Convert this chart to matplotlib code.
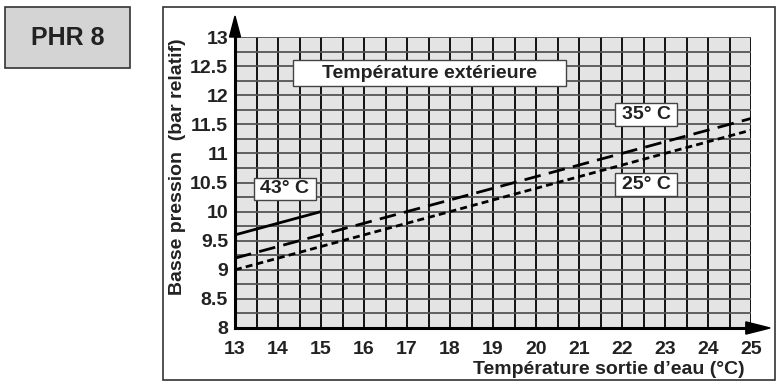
import numpy as np
import matplotlib.pyplot as plt
from matplotlib.patches import Rectangle, Polygon

plt.rcParams['font.family'] = ['Liberation Sans', 'DejaVu Sans']
plt.rcParams['font.weight'] = 'bold'

# water outlet temperature (°C) and low pressure (bar relatif)
t_43 = [13, 15]
p_43 = [9.6, 10.0]
t_35 = [13, 25]
p_35 = [9.2, 11.6]
t_25 = [13, 25]
p_25 = [9.0, 11.4]

x_ticks = np.arange(13, 26, 1)
y_ticks = np.arange(8, 13.01, 0.5)
y_labels = ['8', '8.5', '9', '9.5', '10', '10.5', '11', '11.5', '12', '12.5', '13']

ink = '#222222'
W, H = 779, 384
fig = plt.figure(figsize=[W / 100, H / 100], dpi=100)

# outer frame and title box
fig.patches.append(Rectangle((163 / W, 1 - 380 / H), 612 / W, 373 / H, transform=fig.transFigure,
                             fill=False, ec='#333333', lw=1.2))
fig.patches.append(Rectangle((5 / W, 1 - 68 / H), 125 / W, 61 / H, transform=fig.transFigure,
                             fc='#d4d4d4', ec='#333333', lw=1.2))
fig.text(68 / W, 1 - 38 / H, 'PHR 8', ha='center', va='center', fontsize=18, color=ink)

ax = fig.add_axes([235 / W, 1 - 328 / H, 516 / W, 291 / H])
ax.set_facecolor('#e4e4e4')
ax.set_xlim(13, 25)
ax.set_ylim(8, 13)

ax.set_xticks(x_ticks)
ax.set_xticks(np.arange(13, 25.01, 0.5), minor=True)
ax.set_yticks(y_ticks)
ax.set_yticklabels(y_labels)
ax.set_yticks(np.arange(8, 13.01, 0.25), minor=True)
ax.xaxis.grid(True, which='both', color='black', lw=1.3)
ax.yaxis.grid(True, which='both', color='#555555', lw=1.3)
ax.set_axisbelow(True)
ax.tick_params(which='both', length=0)
ax.tick_params(axis='x', pad=9, labelsize=14, labelcolor=ink)
ax.tick_params(axis='y', pad=5, labelsize=14, labelcolor=ink)

for s in ['top', 'right']:
    ax.spines[s].set_visible(False)
for s in ['left', 'bottom']:
    ax.spines[s].set_linewidth(2.2)
    ax.spines[s].set_color('black')

# axis arrows
ax.add_patch(Polygon([[0.99, -0.021], [1.037, 0], [0.99, 0.021]], closed=True,
                     transform=ax.transAxes, fc='black', ec='black', clip_on=False))
ax.plot([0, 0], [1, 1.03], transform=ax.transAxes, color='black', lw=2.2, clip_on=False)
ax.add_patch(Polygon([[-0.0107, 1.0], [0, 1.072], [0.0107, 1.0]], closed=True,
                     transform=ax.transAxes, fc='black', ec='black', clip_on=False))

# curves
ax.plot(t_43, p_43, color='black', lw=2, solid_capstyle='butt', zorder=3)
ax.plot(t_35, p_35, color='black', lw=2, dashes=(6, 3), zorder=3)
ax.plot(t_25, p_25, color='black', lw=2, dashes=(2.5, 1.5), zorder=3)

# labels
def box(x0, x1, y0, y1, txt, cx, cy):
    ax.add_patch(Rectangle((x0, y0), x1 - x0, y1 - y0, fc='white', ec='#444444', lw=1, zorder=4))
    ax.text(cx, cy, txt, ha='center', va='center', fontsize=14, color=ink, zorder=5)

box(14.34, 20.69, 12.16, 12.60, 'Température extérieure', 17.52, 12.38)
box(13.44, 14.88, 10.20, 10.58, '43° C', 14.16, 10.39)
box(21.84, 23.28, 11.47, 11.87, '35° C', 22.56, 11.67)
box(21.84, 23.28, 10.27, 10.66, '25° C', 22.56, 10.47)

fig.text(745 / W, 1 - 369 / H, 'Température sortie d’eau (°C)', ha='right', va='center',
         fontsize=14, color=ink)
fig.text(178 / W, 1 - 167 / H, 'Basse pression  (bar relatif)', ha='center', va='center',
         rotation=90, fontsize=14, color=ink)

plt.savefig('out.png', dpi=100)
